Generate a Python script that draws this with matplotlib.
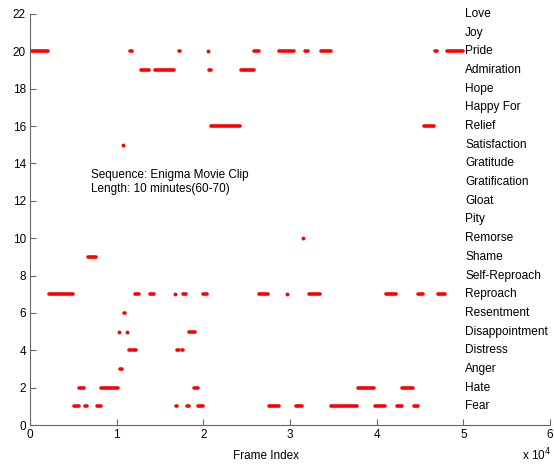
import matplotlib
matplotlib.use('Agg')
import matplotlib.pyplot as plt

plt.rcParams['font.family'] = ['Liberation Sans', 'DejaVu Sans']

# emotion labels, top (22) to bottom (1)
emotions = ['Love', 'Joy', 'Pride', 'Admiration', 'Hope', 'Happy For', 'Relief',
            'Satisfaction', 'Gratitude', 'Gratification', 'Gloat', 'Pity',
            'Remorse', 'Shame', 'Self-Reproach', 'Reproach', 'Resentment',
            'Disappointment', 'Distress', 'Anger', 'Hate', 'Fear']
levels = list(range(22, 0, -1))

# detected frame ranges [start, end] per emotion
pride = [[0, 2100], [11550, 11750], [17200, 17350], [20500, 20500], [25900, 26400],
         [28700, 29500], [29800, 30500], [31700, 32100], [33600, 34700],
         [46700, 47000], [48100, 50000]]
admiration = [[12800, 13700], [14400, 16600], [20600, 20900], [24300, 25800]]
relief = [[20900, 24200], [45500, 46600]]
satisfaction = [[10700, 10700]]
remorse = [[31500, 31500]]
shame = [[6700, 7600]]
reproach = [[2200, 5000], [12100, 12600], [13800, 14300], [16700, 16700],
            [17600, 18000], [20000, 20400], [26400, 27500], [29600, 29600],
            [32200, 33500], [41100, 42200], [44800, 45300], [47100, 47900]]
resentment = [[10900, 11000]]
disappointment = [[10230, 10230], [11200, 11200], [18300, 19000]]
distress = [[11400, 11600], [11900, 12200], [17000, 17200], [17500, 17700]]
anger = [[10400, 10600]]
hate = [[5700, 6200], [8200, 10100], [18900, 19400], [37800, 39700], [42900, 44200]]
fear = [[5100, 5700], [6300, 6600], [7700, 8200], [16800, 17000], [18100, 18300],
        [19400, 20000], [27600, 28700], [30700, 31400], [34700, 37700],
        [39800, 41000], [42300, 42900], [44300, 44800]]

segments = {20: pride, 19: admiration, 16: relief, 15: satisfaction, 10: remorse,
            9: shame, 7: reproach, 6: resentment, 5: disappointment, 4: distress,
            3: anger, 2: hate, 1: fear}

xticks = [0, 10000, 20000, 30000, 40000, 50000, 60000]
yticks = list(range(0, 23, 2))

fig = plt.figure(figsize=(5.54, 4.68), dpi=100)
ax = fig.add_axes([30/554, 43/468, 520/554, 411/468])

for lev, segs in segments.items():
    for s, e in segs:
        if s == e:
            ax.plot([s], [lev], 'o', color='red', ms=2.8, mew=0)
        else:
            ax.plot([s, e], [lev, lev], '-', color='red', lw=2.6,
                    solid_capstyle='round')

for lev, name in zip(levels, emotions):
    ax.text(50200, lev, name, fontsize=8.6, va='center', ha='left')

ax.text(7000, 13.0, 'Sequence: Enigma Movie Clip\nLength: 10 minutes(60-70)',
        fontsize=8.5, va='center', ha='left', linespacing=1.15)

ax.set_xlim(0, 60000)
ax.set_ylim(0, 22)
ax.set_xticks(xticks)
ax.set_xticklabels([str(t // 10000) for t in xticks])
ax.set_yticks(yticks)
for sp in ['top', 'right']:
    ax.spines[sp].set_visible(False)
for sp in ['left', 'bottom']:
    ax.spines[sp].set_color('#666666')
ax.tick_params(direction='in', length=4, color='#666666', labelsize=8.5, pad=3)
ax.set_xlabel('Frame Index', fontsize=8.5)
ax.xaxis.set_label_coords((266 - 30) / 520, -0.062)
fig.text(551/554, 13/468, 'x 10$^4$', fontsize=8.5, ha='right', va='center')

fig.savefig('out.png', dpi=100)
